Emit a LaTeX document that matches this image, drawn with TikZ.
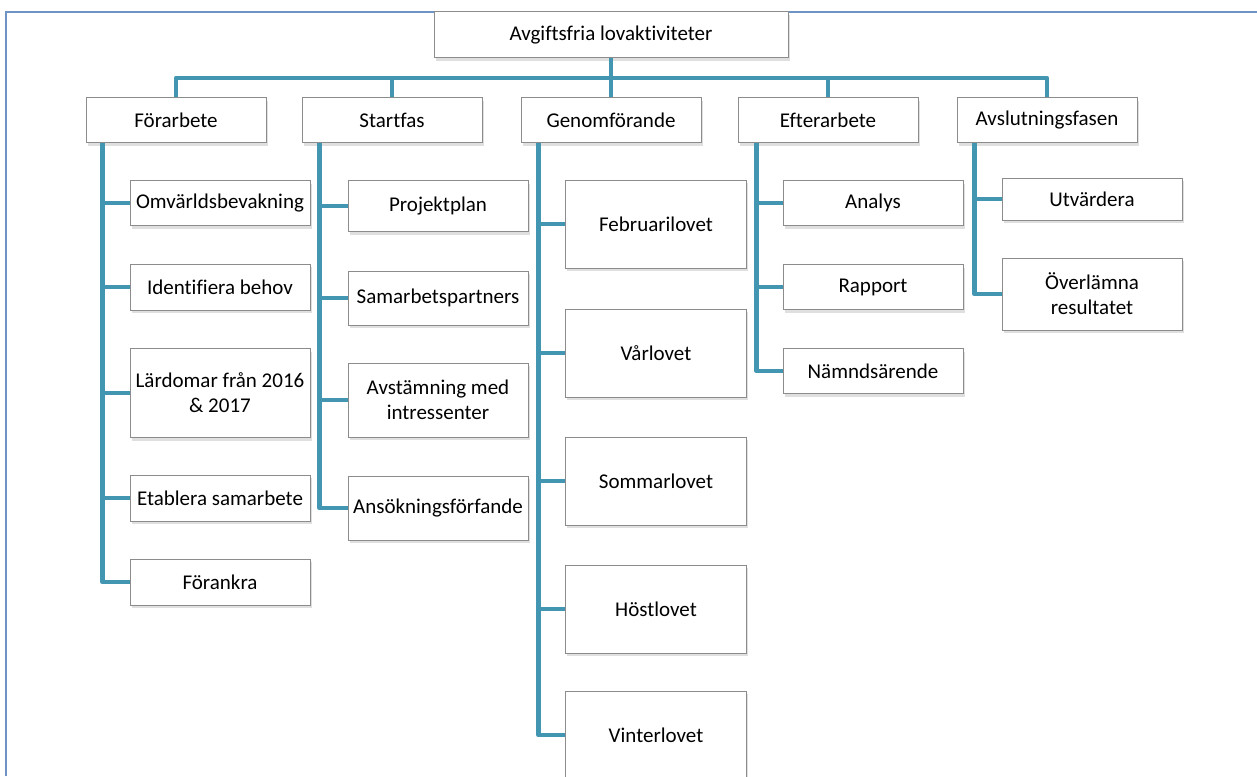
\documentclass[tikz,border=0pt]{standalone}
\usepackage{fontspec}
\setmainfont{Carlito}[Ligatures=NoCommon]
\usetikzlibrary{shadows}
\definecolor{framecol}{RGB}{111,148,196}
\definecolor{boxgray}{RGB}{140,140,140}
\definecolor{linkteal}{RGB}{66,150,178}
\tikzset{
  box/.style={draw=boxgray, fill=white, line width=1pt, minimum width=180pt,
    minimum height=45pt, align=center, inner sep=2pt,
    font=\fontsize{21}{25}\selectfont,
    drop shadow={shadow xshift=1.5pt, shadow yshift=-3pt, opacity=0.25}},
  link/.style={draw=linkteal, line width=4.5pt, line join=round}
}
\begin{document}
\begin{tikzpicture}[x=1pt,y=-1pt]
	\useasboundingbox (0,0) rectangle (1257,776);
	\clip (0,0) rectangle (1257,776);
	\draw[framecol, line width=1.5pt] (6,776) -- (6,12) -- (1257,12);
	% top and phases
	\node[box, minimum width=354pt, minimum height=46pt] (root) at (611,35) {Avgiftsfria lovaktiviteter};
	\node[box] (forarb) at (176,120) {Förarbete};
	\node[box] (start) at (392,120) {Startfas};
	\node[box] (genom) at (611,120) {Genomförande};
	\node[box] (efter) at (828,120) {Efterarbete};
	\node[box] (avslut) at (1047,120) {Avslutningsfasen};
	\coordinate (bus) at (611,78);
	\draw[link] (forarb.north) |- (bus) -| (avslut.north);
	\draw[link] (root.south) -- (genom.north);
	\draw[link] (start.north) -- (start.north |- bus);
	\draw[link] (efter.north) -- (efter.north |- bus);
	% Förarbete
	\node[box] (omv) at (220,203) {Omvärldsbevakning};
	\node[box, minimum height=46pt] (ident) at (220,287) {Identifiera behov};
	\node[box, minimum height=89pt] (lard) at (220,393) {Lärdomar från 2016\\\& 2017};
	\node[box, minimum height=46pt] (etab) at (220,498) {Etablera samarbete};
	\node[box, minimum height=46pt] (forank) at (220,582) {Förankra};
	\draw[link] ([xshift=17pt]forarb.south west) |- (omv.west);
	\draw[link] ([xshift=17pt]forarb.south west) |- (ident.west);
	\draw[link] ([xshift=17pt]forarb.south west) |- (lard.west);
	\draw[link] ([xshift=17pt]forarb.south west) |- (etab.west);
	\draw[link] ([xshift=17pt]forarb.south west) |- (forank.west);
	% Startfas
	\node[box, minimum height=51pt] (projekt) at (438,206) {Projektplan};
	\node[box, minimum height=54pt] (samarb) at (438,298) {Samarbetspartners};
	\node[box, minimum height=74pt] (avstam) at (438,400) {Avstämning med\\intressenter};
	\node[box, minimum height=64pt] (ansok) at (438,508) {Ansökningsförfande};
	\draw[link] ([xshift=18pt]start.south west) |- (projekt.west);
	\draw[link] ([xshift=18pt]start.south west) |- (samarb.west);
	\draw[link] ([xshift=18pt]start.south west) |- (avstam.west);
	\draw[link] ([xshift=18pt]start.south west) |- (ansok.west);
	% Genomförande
	\node[box, minimum width=181pt, minimum height=88pt] (feb) at (656,224) {Februarilovet};
	\node[box, minimum width=181pt, minimum height=88pt] (var) at (656,353) {Vårlovet};
	\node[box, minimum width=181pt, minimum height=88pt] (sommar) at (656,481) {Sommarlovet};
	\node[box, minimum width=181pt, minimum height=88pt] (host) at (656,609) {Höstlovet};
	\node[box, minimum width=181pt, minimum height=88pt] (vinter) at (656,735) {Vinterlovet};
	\draw[link] ([xshift=18pt]genom.south west) |- (feb.west);
	\draw[link] ([xshift=18pt]genom.south west) |- (var.west);
	\draw[link] ([xshift=18pt]genom.south west) |- (sommar.west);
	\draw[link] ([xshift=18pt]genom.south west) |- (host.west);
	\draw[link] ([xshift=18pt]genom.south west) |- (vinter.west);
	% Efterarbete
	\node[box] (analys) at (873,203) {Analys};
	\node[box] (rapport) at (873,287) {Rapport};
	\node[box] (namnd) at (873,371) {Nämndsärende};
	\draw[link] ([xshift=19pt]efter.south west) |- (analys.west);
	\draw[link] ([xshift=19pt]efter.south west) |- (rapport.west);
	\draw[link] ([xshift=19pt]efter.south west) |- (namnd.west);
	% Avslutningsfasen
	\node[box, minimum height=42pt] (utv) at (1092,199) {Utvärdera};
	\node[box, minimum height=72pt] (overl) at (1092,294) {Överlämna\\resultatet};
	\draw[link] ([xshift=18pt]avslut.south west) |- (utv.west);
	\draw[link] ([xshift=18pt]avslut.south west) |- (overl.west);
\end{tikzpicture}
\end{document}
